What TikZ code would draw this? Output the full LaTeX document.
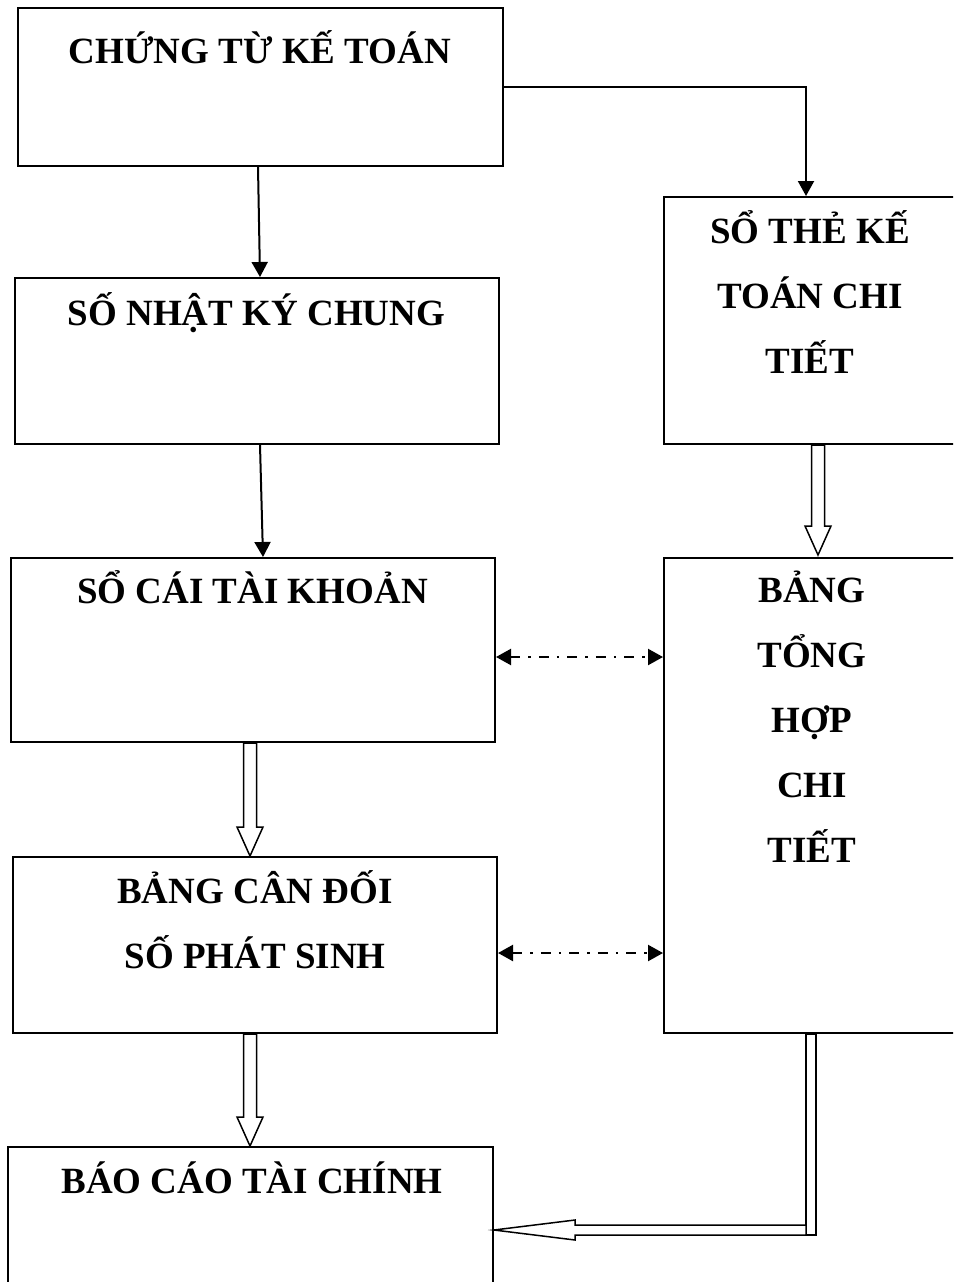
\documentclass[tikz,border=0pt]{standalone}
\usepackage{fontspec}
\setmainfont{Liberation Serif}
\usetikzlibrary{arrows.meta,calc}

\tikzset{
  box/.style={draw, line width=2pt, rectangle, inner sep=0pt},
  title/.style={font=\bfseries\fontsize{37}{65}\selectfont, align=center, inner sep=0pt, anchor=base},
  arr/.style={line width=2pt, -{Triangle[length=15pt,width=16pt]}},
  dd/.style={line width=2.2pt, dash pattern=on 10pt off 8pt on 2.5pt off 8pt,
             {Triangle[length=15pt,width=16pt]}-{Triangle[length=15pt,width=16pt]}},
  hollow/.style={draw, line width=1.5pt, fill=white, line join=miter},
}

% open block arrow pointing down, from #1 to the tip #2 (same x)
\newcommand\hollowdown[2]{%
  \draw[hollow] ($(#1)+(-6.5,0)$) -- ($(#2)+(-6.5,-29)$) -- ($(#2)+(-13,-29)$)
    -- (#2) -- ($(#2)+(13,-29)$) -- ($(#2)+(6.5,-29)$) -- ($(#1)+(6.5,0)$) -- cycle;}

\begin{document}
\begin{tikzpicture}[x=1pt,y=-1pt]
  \clip (0,0) rectangle (953,1282);
  \fill[white] (0,0) rectangle (953,1282);

  % left column (a title node is anchored on the baseline of its last line)
  \node[box, minimum width=485pt, minimum height=158pt] (ct) at (260.5,87) {};
  \node[title] (ctt) at (260,63) {CHỨNG TỪ KẾ TOÁN};

  \node[box, minimum width=484pt, minimum height=166pt] (nk) at (257,361) {};
  \node[title] (nkt) at (256.5,325) {SỐ NHẬT KÝ CHUNG};

  \node[box, minimum width=484pt, minimum height=184pt] (sc) at (253,650) {};
  \node[title] (sct) at (252.5,603) {SỔ CÁI TÀI KHOẢN};

  \node[box, minimum width=484pt, minimum height=176pt] (bc) at (255,945) {};
  \node[title] (bct) at (255,968) {BẢNG CÂN ĐỐI\\SỐ PHÁT SINH};

  \node[box, minimum width=485pt, minimum height=163pt] (bctc) at (250.5,1228.5) {};
  \node[title] (bctct) at (252,1193) {BÁO CÁO TÀI CHÍNH};

  % right column
  \node[box, minimum width=292pt, minimum height=247pt] (st) at (810,320.5) {};
  \node[title] (stt) at (810,373) {SỔ THẺ KẾ\\TOÁN CHI\\TIẾT};

  \node[box, minimum width=292pt, minimum height=475pt] (bt) at (810,795.5) {};
  \node[title] (btt) at (812,862) {BẢNG\\TỔNG\\HỢP\\CHI\\TIẾT};

  % single arrows
  \draw[arr] ($(ct.south)+(-2.5,0)$) -- ($(nk.north)+(3,0)$);
  \draw[arr] ($(nk.south)+(3,0)$) -- ($(sc.north)+(10,0)$);
  \draw[arr] (ct.east) -| ($(st.north)+(-4,0)$);

  % open block arrows
  \coordinate (a1) at ($(st.south)+(8,0)$);
  \coordinate (b1) at ($(bt.north)+(8,-2)$);
  \hollowdown{a1}{b1}
  \coordinate (a2) at ($(sc.south)+(-3,0)$);
  \coordinate (b2) at ($(bc.north)+(-5,0)$);
  \hollowdown{a2}{b2}
  \coordinate (a3) at ($(bc.south)+(-5,0)$);
  \coordinate (b3) at ($(bctc.north)+(-0.5,0)$);
  \hollowdown{a3}{b3}

  % dash-dot two-way arrows
  \coordinate (d1) at ($(sc.east)+(0,7)$);
  \draw[dd] (d1) -- (d1 -| bt.west);
  \coordinate (d2) at ($(bc.east)+(0,8)$);
  \draw[dd] (d2) -- (d2 -| bt.west);

  % open block arrow from the detail summary down and into the statements
  \coordinate (v0) at ($(bt.south)+(-4,0)$);
  \coordinate (tip) at ($(bctc.east)+(0,1.5)$);
  \draw[hollow] (v0) -- (v0 |- 0,1235) -- ++(10,0) -- (v0 -| 816,0) -- cycle;
  \draw[hollow] (tip) -- ($(tip)+(81,-10)$) -- ($(tip)+(81,-5)$)
    -- ($(tip -| v0)+(0,-5)$) -- ($(tip -| v0)+(0,5)$) -- ($(tip)+(81,5)$)
    -- ($(tip)+(81,10)$) -- cycle;
\end{tikzpicture}
\end{document}
